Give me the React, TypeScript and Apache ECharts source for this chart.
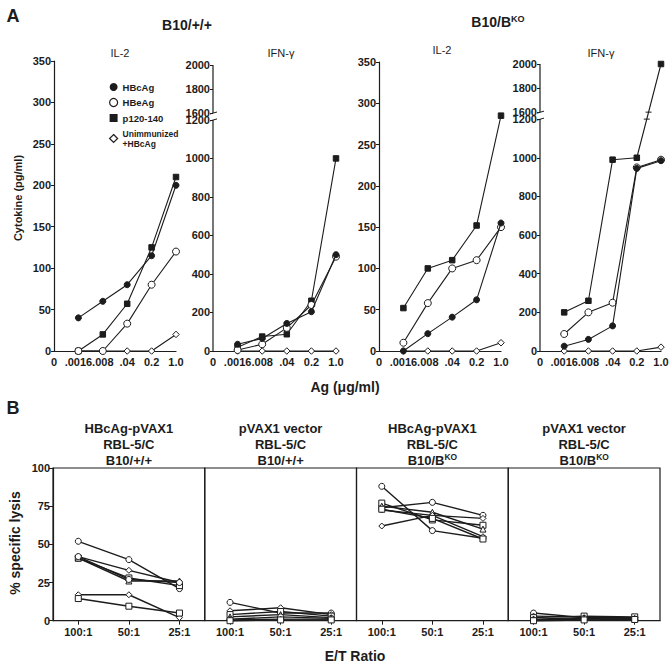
import React, { useEffect, useRef } from 'react';
import * as echarts from 'echarts';

const FONT = '"Liberation Sans", Arial, Helvetica, sans-serif';
const INK = '#1c1c1c';

// ---------- Panel A data ----------
const doseLabels = ['0', '.0016', '.008', '.04', '0.2', '1.0'];
const doseIdx = [1, 2, 3, 4, 5];
const groupNames = ['HBcAg', 'HBeAg', 'p120-140', 'Unimmunized +HBcAg'];

// rows: HBcAg, HBeAg, p120-140, Unimmunized +HBcAg
const il2WT = [
  [40, 60, 80, 115, 200],
  [0, 0, 33, 80, 120],
  [0, 20, 57, 125, 210],
  [0, 0, 0, 0, 20],
];
const ifnWT = [
  [35, 65, 143, 204, 500],
  [5, 35, 120, 239, 490],
  [20, 75, 87, 261, 1000],
  [0, 0, 0, 0, 0],
];
const il2KO = [
  [0, 21, 41, 62, 155],
  [10, 58, 100, 110, 150],
  [52, 100, 110, 152, 285],
  [0, 0, 0, 0, 10],
];
const ifnKO = [
  [25, 60, 130, 945, 985],
  [88, 200, 250, 950, 990],
  [200, 260, 990, 1000, 2000],
  [0, 0, 0, 0, 20],
];
const ifnLowTicks = [0, 200, 400, 600, 800, 1000, 1200];
const ifnHighTicks = [1600, 1800, 2000];

// ---------- Panel B data ----------
const etLabels = ['100:1', '50:1', '25:1'];
const lysisWT_HBc = [[52, 40, 21], [42, 33, 25], [41, 28, 23], [41, 26, 26], [42, 27, 25], [17, 17, 2], [14.5, 9.5, 5]];
const lysisWT_vec = [[12, 5, 5], [6.5, 8.5, 4], [4, 6, 3], [2.5, 4, 2], [1, 2.5, 1.5], [0.5, 1, 1], [0, 0.5, 0.5]];
const lysisKO_HBc = [[74, 77.5, 69], [62, 69, 67], [77, 66, 62.5], [75, 71, 60], [88, 59, 54], [72.5, 69, 55], [73, 67, 53.5]];
const lysisKO_vec = [[5, 2, 2], [3, 2.5, 2], [2, 3, 2.5], [1, 2, 1.5], [0.5, 1.5, 1], [0.3, 1, 1], [0, 0.5, 0.8]];

// ---------- broken axis mapping (IFN-γ) ----------
const BREAK_LO = 1200;
const BREAK_HI = 1600;
const BREAK_GAP = 36;
const UPPER_K = 0.623;
const brk = (v: number) => (v <= BREAK_LO ? v : BREAK_LO + BREAK_GAP + (v - BREAK_HI) * UPPER_K);
const IFN_MAX = brk(2000);
const ifnTickReal = [...ifnLowTicks, ...ifnHighTicks];
const ifnTickDisp = ifnTickReal.map(brk);

const groupSymbols = [
  { symbol: 'circle', size: 6, fill: INK },
  { symbol: 'circle', size: 7, fill: '#fff' },
  { symbol: 'rect', size: 5.5, fill: INK },
  { symbol: 'diamond', size: 6.5, fill: '#fff' },
];
const mouseSymbols = ['circle', 'diamond', 'rect', 'triangle', 'circle', 'diamond', 'rect'];

const gridsA = [
  { left: 54, top: 61, width: 122, height: 290 },
  { left: 213, top: 65, width: 123, height: 286 },
  { left: 379, top: 62, width: 122, height: 289 },
  { left: 540, top: 64, width: 121, height: 287 },
];
const B_LEFT = 53;
const B_W = 151.75;

const labelStyle = { fontFamily: FONT, fontWeight: 'bold' as const, fontSize: 11, color: INK };

function buildOption() {
  const grid: any[] = [];
  const xAxis: any[] = [];
  const yAxis: any[] = [];
  const series: any[] = [];

  const panelsA = [il2WT, ifnWT, il2KO, ifnKO];
  panelsA.forEach((panel, gi) => {
    const isIfn = gi % 2 === 1;
    grid.push({ ...gridsA[gi], containLabel: false, outerBoundsMode: 'none' });
    xAxis.push({
      type: 'value', gridIndex: gi, min: 0, max: 5, interval: 1,
      axisLine: { show: true, onZero: false, lineStyle: { color: INK, width: 1.2 } },
      axisTick: { show: false }, splitLine: { show: false },
      axisLabel: { ...labelStyle, margin: 5, formatter: (v: number) => doseLabels[Math.round(v)] ?? '' },
    });
    if (isIfn) {
      yAxis.push({
        type: 'value', gridIndex: gi, min: 0, max: IFN_MAX,
        axisLine: { show: false },
        axisTick: { show: true, length: 3, customValues: ifnTickDisp, lineStyle: { color: INK, width: 1 } },
        splitLine: { show: false },
        axisLabel: {
          ...labelStyle, margin: 3, customValues: ifnTickDisp,
          formatter: (v: number) => {
            let best = '', bd = 1e9;
            ifnTickDisp.forEach((d, k) => { const dd = Math.abs(d - v); if (dd < bd) { bd = dd; best = String(ifnTickReal[k]); } });
            return best;
          },
        },
      });
    } else {
      yAxis.push({
        type: 'value', gridIndex: gi, min: 0, max: 350, interval: 50,
        axisLine: { show: true, lineStyle: { color: INK, width: 1.2 } },
        axisTick: { show: true, length: 3, lineStyle: { color: INK, width: 1 } },
        splitLine: { show: false },
        axisLabel: { ...labelStyle, margin: 3 },
      });
    }
    panel.forEach((row, si) => {
      const s = groupSymbols[si];
      series.push({
        type: 'line', name: groupNames[si], xAxisIndex: gi, yAxisIndex: gi,
        data: row.map((v, i) => [doseIdx[i], isIfn ? brk(v) : v]),
        symbol: s.symbol, symbolSize: s.size, clip: false,
        itemStyle: { color: s.fill, borderColor: INK, borderWidth: 1 },
        lineStyle: { color: INK, width: 1.1 },
        emphasis: { disabled: true }, z: 3 + (3 - si),
      });
    });
  });

  const panelsB = [lysisWT_HBc, lysisWT_vec, lysisKO_HBc, lysisKO_vec];
  panelsB.forEach((panel, pi) => {
    const gi = 4 + pi;
    grid.push({
      left: B_LEFT + pi * B_W, top: 468, width: B_W, height: 152.7,
      show: true, borderColor: INK, borderWidth: 1.2, backgroundColor: 'transparent',
      containLabel: false, outerBoundsMode: 'none',
    });
    xAxis.push({
      type: 'category', gridIndex: gi, data: etLabels, boundaryGap: true,
      axisLine: { show: true, lineStyle: { color: INK, width: 1.2 } },
      axisTick: { show: true, alignWithLabel: true, length: 4, lineStyle: { color: INK, width: 1 } },
      axisLabel: { ...labelStyle, margin: 6, interval: 0 },
      splitLine: { show: false },
    });
    yAxis.push({
      type: 'value', gridIndex: gi, min: 0, max: 100, interval: 25,
      show: pi === 0,
      axisLine: { show: true, lineStyle: { color: INK, width: 1.2 } },
      axisTick: { show: true, length: 4, lineStyle: { color: INK, width: 1 } },
      axisLabel: { ...labelStyle, margin: 3 },
      splitLine: { show: false },
    });
    panel.forEach((row, mi) => {
      series.push({
        type: 'line', name: `m${pi}-${mi}`, xAxisIndex: gi, yAxisIndex: gi,
        data: row, symbol: mouseSymbols[mi], symbolSize: 6, clip: false,
        itemStyle: { color: '#fff', borderColor: INK, borderWidth: 1 },
        lineStyle: { color: INK, width: 1.4 },
        emphasis: { disabled: true },
      });
    });
  });

  return {
    animation: false,
    backgroundColor: '#fff',
    textStyle: { fontFamily: FONT },
    grid, xAxis, yAxis, series,
    legend: {
      data: [
        { name: groupNames[0], icon: 'circle', itemStyle: { color: INK, borderColor: INK, borderWidth: 0 } },
        { name: groupNames[1], icon: 'circle', itemStyle: { color: '#fff', borderColor: INK, borderWidth: 1.2 } },
        { name: groupNames[2], icon: 'rect', itemStyle: { color: INK, borderColor: INK, borderWidth: 0 } },
        { name: groupNames[3], icon: 'diamond', itemStyle: { color: '#fff', borderColor: INK, borderWidth: 1.2 } },
      ],
      orient: 'vertical', left: 104, top: 77, itemWidth: 8, itemHeight: 8, itemGap: 5.5,
      selectedMode: false,
      textStyle: {
        fontFamily: FONT, fontWeight: 'bold', fontSize: 9.5, color: INK, lineHeight: 10,
        rich: { s: { fontFamily: FONT, fontWeight: 'bold', fontSize: 8.5, lineHeight: 10, color: INK } },
      },
      formatter: (n: string) => (n.startsWith('Unimm') ? '{s|Unimmunized}\n{s|+HBcAg}' : n),
    },
  };
}

function txt(text: string, x: number, y: number, size: number, weight = 'bold', rotation = 0): any {
  return {
    type: 'text', x, y, rotation, silent: true,
    style: { text, x: 0, y: 0, textAlign: 'center', textVerticalAlign: 'middle', fontFamily: FONT, fontSize: size, fontWeight: weight, fill: INK },
  };
}
function supTxt(base: string, sup: string, x: number, y: number, size: number): any {
  return {
    type: 'text', x, y, silent: true,
    style: {
      text: `{a|${base}}{s|${sup}}`, x: 0, y: 0, textAlign: 'center', textVerticalAlign: 'middle',
      rich: {
        a: { fontFamily: FONT, fontSize: size, fontWeight: 'bold', fill: INK },
        s: { fontFamily: FONT, fontSize: size * 0.65, fontWeight: 'bold', fill: INK, padding: [0, 0, size * 0.45, 0] },
      },
    },
  };
}
function seg(x1: number, y1: number, x2: number, y2: number, w = 1.2): any {
  return { type: 'line', silent: true, shape: { x1, y1, x2, y2 }, style: { stroke: INK, lineWidth: w } };
}

const headerCenters = [0, 1, 2, 3].map((i) => B_LEFT + B_W * (i + 0.5));

function staticGraphics(): any[] {
  const g: any[] = [
    txt('A', 13, 16, 18),
    txt('B10/+/+', 187, 25, 14),
    supTxt('B10/B', 'KO', 498, 22, 14),
    txt('IL-2', 120, 53, 11, 'normal'),
    txt('IFN-γ', 281, 53, 11, 'normal'),
    txt('IL-2', 442, 50, 11, 'normal'),
    txt('IFN-γ', 601, 53, 11, 'normal'),
    txt('Cytokine (pg/ml)', 18, 198, 11, 'bold', Math.PI / 2),
    txt('Ag (μg/ml)', 345, 387, 14),
    txt('B', 13, 408, 18),
    txt('% specific lysis', 15, 543, 14, 'bold', Math.PI / 2),
    txt('E/T Ratio', 355, 656, 14),
  ];
  const l1 = ['HBcAg-pVAX1', 'pVAX1 vector', 'HBcAg-pVAX1', 'pVAX1 vector'];
  headerCenters.forEach((cx, i) => {
    g.push(txt(l1[i], cx, 428, 13));
    g.push(txt('RBL-5/C', cx, 444, 13));
    if (i < 2) g.push(txt('B10/+/+', cx, 460, 13));
    else g.push(supTxt('B10/B', 'KO', cx, 460, 13));
  });
  return g;
}

export default function App() {
  const ref = useRef<HTMLDivElement>(null);
  useEffect(() => {
    if (!ref.current) return;
    const chart = echarts.init(ref.current, null, { renderer: 'svg' });
    chart.setOption(buildOption() as any);
    const extra: any[] = [];
    [1, 3].forEach((gi) => {
      const p0 = chart.convertToPixel({ gridIndex: gi } as any, [0, 0]) as number[];
      const p1 = chart.convertToPixel({ gridIndex: gi } as any, [0, BREAK_LO]) as number[];
      const p2 = chart.convertToPixel({ gridIndex: gi } as any, [0, brk(BREAK_HI)]) as number[];
      const p3 = chart.convertToPixel({ gridIndex: gi } as any, [0, IFN_MAX]) as number[];
      if (!p0 || !p3) return;
      extra.push(seg(p0[0], p0[1], p1[0], p1[1]));
      extra.push(seg(p2[0], p2[1], p3[0], p3[1]));
      extra.push(seg(p1[0] - 3, p1[1] + 1, p1[0] + 4, p1[1] - 1, 1));
      extra.push(seg(p2[0] - 3, p2[1] + 1, p2[0] + 4, p2[1] - 1, 1));
    });
    // break marks on the p120-140 line crossing the axis break (B10/BKO IFN-γ)
    const row = ifnKO[2];
    for (let i = 0; i < row.length - 1; i++) {
      if (row[i] <= BREAK_LO && row[i + 1] >= BREAK_HI) {
        const a = chart.convertToPixel({ gridIndex: 3 } as any, [doseIdx[i], brk(row[i])]) as number[];
        const b = chart.convertToPixel({ gridIndex: 3 } as any, [doseIdx[i + 1], brk(row[i + 1])]) as number[];
        [BREAK_LO, brk(BREAK_HI)].forEach((dv) => {
          const py = (chart.convertToPixel({ gridIndex: 3 } as any, [0, dv]) as number[])[1];
          const t = (py - a[1]) / (b[1] - a[1]);
          const px = a[0] + t * (b[0] - a[0]);
          extra.push(seg(px - 3, py, px + 3, py, 1));
        });
      }
    }
    chart.setOption({ graphic: [...staticGraphics(), ...extra] } as any);
    return () => chart.dispose();
  }, []);
  return <div ref={ref} style={{ position: 'fixed', left: 0, top: 0, width: 672, height: 666 }} />;
}
